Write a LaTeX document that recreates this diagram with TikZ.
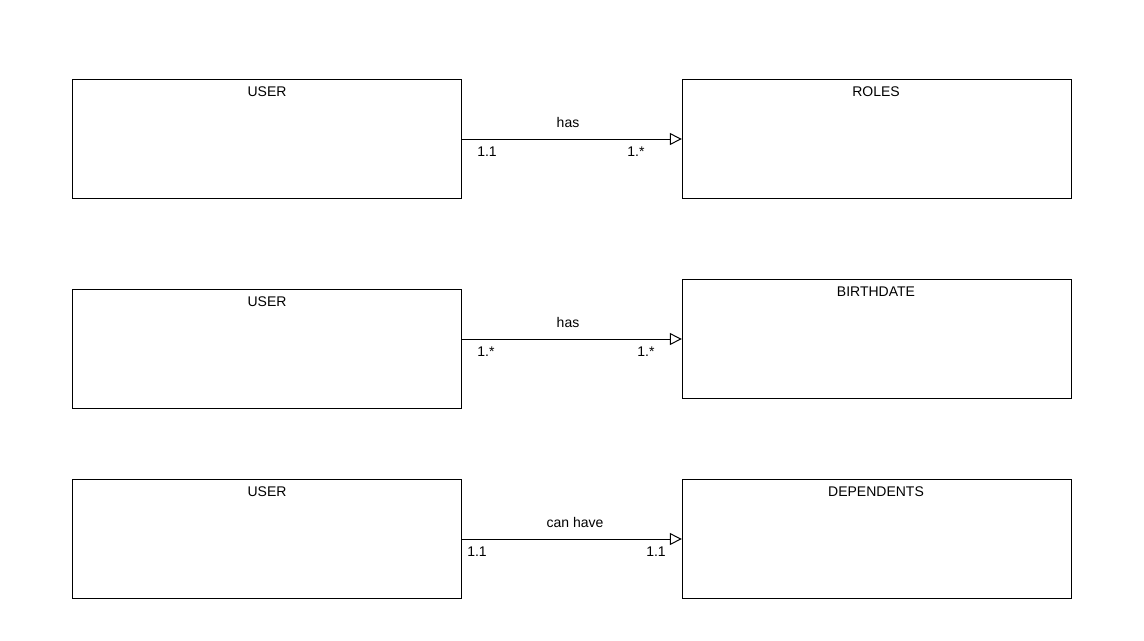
\documentclass[tikz,border=0pt]{standalone}
\usepackage{fontspec}
\setmainfont{Liberation Sans}
\usetikzlibrary{arrows.meta}

\begin{document}
\begin{tikzpicture}[x=0.75pt, y=-0.75pt, line width=0.75pt,
    every node/.style={font=\fontsize{10.5}{12}\selectfont, inner sep=0pt},
    entity/.style={draw, minimum width=292pt, minimum height=89.25pt},
    assoc/.style={-{Triangle[open, length=9pt, width=9pt]}}]
      \useasboundingbox (0,0) rectangle (1144,640);
      % entities
      \node[entity] (user1) at (267, 139) {};
      \node[entity] (roles) at (877, 139) {};
      \node[entity] (user2) at (267, 349) {};
      \node[entity] (birth) at (877, 339) {};
      \node[entity] (user3) at (267, 539) {};
      \node[entity] (deps) at (877, 539) {};
      \node[anchor=center] (user1t) at (267, 92) {USER};
      \node[anchor=center] (rolest) at (876, 92) {ROLES};
      \node[anchor=center] (user2t) at (267, 302) {USER};
      \node[anchor=center] (birtht) at (876, 292) {BIRTHDATE};
      \node[anchor=center] (user3t) at (267, 492) {USER};
      \node[anchor=center] (depst) at (876, 492) {DEPENDENTS};
      % associations
      \draw[assoc] (user1.east) -- (roles.west);
      \draw[assoc] (birth.west -| user2.east) -- (birth.west);
      \draw[assoc] (user3.east) -- (deps.west);
      \node[anchor=center] (has1) at (568, 122) {has};
      \node[anchor=center] (m1a) at (487, 152) {1.1};
      \node[anchor=center] (m1b) at (636, 152) {1.*};
      \node[anchor=center] (has2) at (568, 322) {has};
      \node[anchor=center] (m2a) at (486, 352) {1.*};
      \node[anchor=center] (m2b) at (646, 352) {1.*};
      \node[anchor=center] (can3) at (575, 522) {can have};
      \node[anchor=center] (m3a) at (477, 552) {1.1};
      \node[anchor=center] (m3b) at (656, 552) {1.1};
    \end{tikzpicture}
\end{document}
